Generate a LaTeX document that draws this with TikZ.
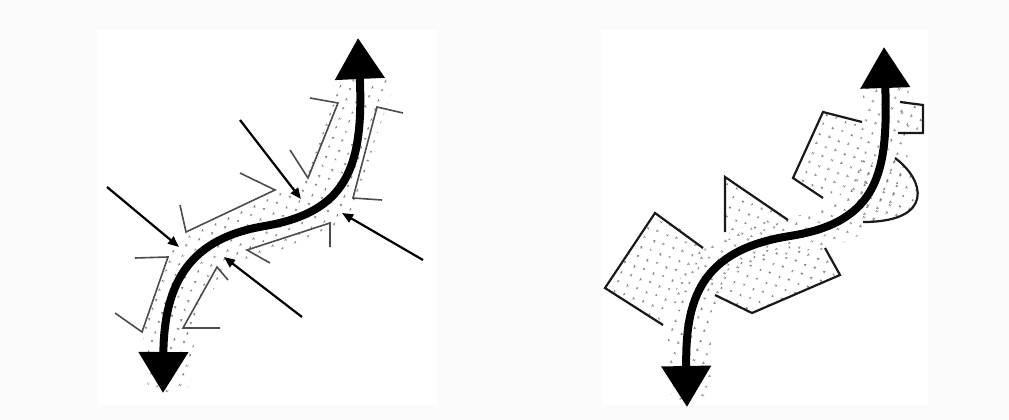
\documentclass[tikz,border=0pt]{standalone}
\usetikzlibrary{arrows.meta,patterns.meta}
\tikzdeclarepattern{name=stipple, type=uncolored,
  bottom left={(0pt,0pt)}, top right={(14pt,14pt)}, tile size={(14pt,14pt)},
  tile transformation={rotate=25},
  code={\fill (2.5pt,2.5pt) circle (1.25pt); \fill (9.5pt,9pt) circle (1.25pt);}}
\tikzset{
  band/.style={pattern=stipple, pattern color=black!50},
  mainflow/.style={line width=8pt, {Triangle[length=41pt,width=48pt]}-{Triangle[length=41pt,width=48pt]}},
  thinedge/.style={line width=1.6pt, draw=black!70, line join=miter},
  push/.style={line width=2.2pt, -{Triangle[length=11pt,width=9pt]}},
  edge/.style={line width=2.2pt, draw=black!90, line join=miter},
}
\begin{document}
\begin{tikzpicture}[x=1pt,y=-1pt]
\useasboundingbox (0,0) rectangle (1009,420);
\fill[black!1.5] (0,0) rectangle (1009,420);
\fill[white] (98,30) rectangle (437,405);
\fill[white] (602,30) rectangle (928,405);

% ---------------- left panel ----------------
\fill[band] plot[smooth cycle] coordinates {(150,388) (143,340) (148,300) (162,265) (182,240) (228,215) (278,192) (304,176) (320,140) (334,100) (348,70) (392,78) (385,110) (372,150) (362,195) (345,225) (295,246) (248,258) (225,272) (203,310) (193,350) (188,388)};

\draw[thinedge] (310,98) -- (338,103) -- (308,178) -- (290,150);
\draw[thinedge] (240,173) -- (275,190) -- (186,232) -- (180,205);
\draw[thinedge] (135,258) -- (168,257) -- (142,332) -- (115,313);
\draw[thinedge] (403,113) -- (377,107) -- (353,198) -- (382,200);
\draw[thinedge] (330,247) -- (330,223) -- (247,250) -- (270,263);
\draw[thinedge] (228,280) -- (217,267) -- (183,328) -- (220,328);

\coordinate (a1s) at (107,187); \coordinate (a1e) at (179,247);
\coordinate (a2s) at (240,120); \coordinate (a2e) at (301,199);
\coordinate (a3s) at (423,260); \coordinate (a3e) at (342,213);
\coordinate (a4s) at (302,317); \coordinate (a4e) at (224,257);
\draw[push] (a1s) -- (a1e);
\draw[push] (a2s) -- (a2e);
\draw[push] (a3s) -- (a3e);
\draw[push] (a4s) -- (a4e);

\coordinate (lb) at (163,393);
\coordinate (lm) at (265,226);
\coordinate (lt) at (358,38);
\draw[mainflow] (lb) .. controls (164,280) and (192,238) .. (lm) .. controls (345,212) and (364,170) .. (lt);

% ---------------- right panel ----------------
\fill[band] plot[smooth cycle] coordinates {(672,395) (668,340) (676,290) (695,255) (740,228) (800,215) (840,200) (858,170) (862,120) (868,70) (905,72) (908,120) (905,175) (885,215) (850,240) (800,252) (755,262) (728,282) (712,330) (708,395)};
\fill[band] (655,213) -- (605,288) -- (663,323) -- (713,248) -- cycle;
\fill[band] (725,177) -- (788,220) -- (760,240) -- (725,240) -- cycle;
\fill[band] (862,122) -- (823,112) -- (793,178) -- (823,198) -- (870,190) -- cycle;
\fill[band] (898,133) -- (900,102) -- (923,105) -- (923,133) -- cycle;
\fill[band] (880,150) -- (895,158) .. controls (925,180) and (935,222) .. (863,222) -- (850,200) -- cycle;
\fill[band] (700,285) -- (752,313) -- (840,275) -- (825,248) -- (770,245) -- cycle;

\draw[edge] (703,248) -- (655,213) -- (605,288) -- (663,325);
\draw[edge] (725,232) -- (725,177) -- (788,220);
\draw[edge] (823,198) -- (793,178) -- (823,112) -- (862,122);
\draw[edge] (900,102) -- (923,105) -- (923,133) -- (898,133);
\draw[edge] (895,158) .. controls (925,180) and (935,222) .. (863,222);
\draw[edge] (715,295) -- (752,313) -- (840,275) -- (825,248);

\coordinate (rb) at (687,407);
\coordinate (rm) at (790,236);
\coordinate (rt) at (884,47);
\draw[mainflow] (rb) .. controls (685,300) and (700,250) .. (rm) .. controls (880,222) and (888,170) .. (rt);
\end{tikzpicture}
\end{document}
